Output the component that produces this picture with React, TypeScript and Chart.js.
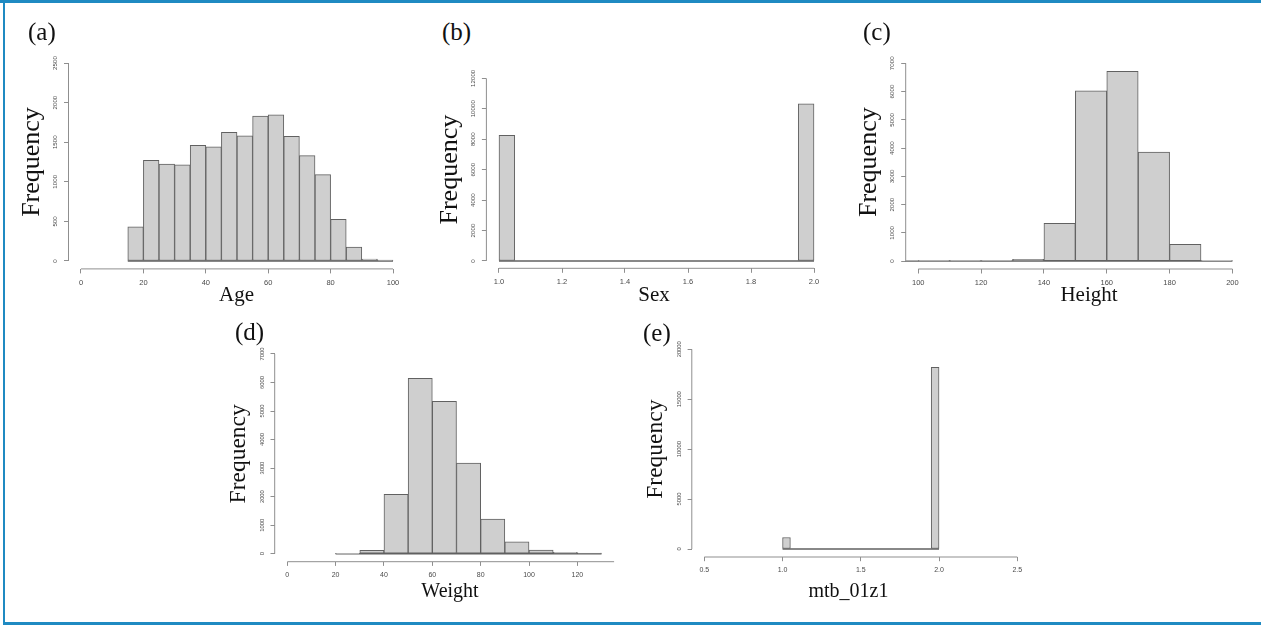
import React, { useEffect, useRef } from "react";
import { Chart, registerables } from "chart.js";

Chart.register(...registerables);

// ---------------- data ----------------
// (a) Age
const ageBinStart = 15;
const ageBinWidth = 5;
const ageCounts = [430, 1270, 1225, 1215, 1460, 1440, 1625, 1580, 1830, 1845, 1575, 1330, 1090, 525, 175, 25, 12];
const ageXLim = [0, 100];
const ageXTicks = [0, 20, 40, 60, 80, 100];
const ageXTickLabels = ["0", "20", "40", "60", "80", "100"];
const ageYTicks = [0, 500, 1000, 1500, 2000, 2500];
const ageYTickLabels = ["0", "500", "1000", "1500", "2000", "2500"];

// (b) Sex
const sexBinStart = 1.0;
const sexBinWidth = 0.05;
const sexCounts = [8250, 0, 0, 0, 0, 0, 0, 0, 0, 0, 0, 0, 0, 0, 0, 0, 0, 0, 0, 10320];
const sexXLim = [1.0, 2.0];
const sexXTicks = [1.0, 1.2, 1.4, 1.6, 1.8, 2.0];
const sexXTickLabels = ["1.0", "1.2", "1.4", "1.6", "1.8", "2.0"];
const sexYTicks = [0, 2000, 4000, 6000, 8000, 10000, 12000];
const sexYTickLabels = ["0", "2000", "4000", "6000", "8000", "10000", "12000"];

// (c) Height
const heightBinStart = 90;
const heightBinWidth = 10;
const heightCounts = [0, 2, 3, 8, 60, 1335, 6030, 6720, 3860, 590, 18];
const heightXLim = [100, 200];
const heightXTicks = [100, 120, 140, 160, 180, 200];
const heightXTickLabels = ["100", "120", "140", "160", "180", "200"];
const heightYTicks = [0, 1000, 2000, 3000, 4000, 5000, 6000, 7000];
const heightYTickLabels = ["0", "1000", "2000", "3000", "4000", "5000", "6000", "7000"];

// (d) Weight
const weightBinStart = 20;
const weightBinWidth = 10;
const weightCounts = [5, 117, 2080, 6150, 5340, 3180, 1215, 420, 128, 45, 22];
const weightXLim = [0, 130];
const weightXTicks = [0, 20, 40, 60, 80, 100, 120];
const weightXTickLabels = ["0", "20", "40", "60", "80", "100", "120"];
const weightYTicks = [0, 1000, 2000, 3000, 4000, 5000, 6000, 7000];
const weightYTickLabels = ["0", "1000", "2000", "3000", "4000", "5000", "6000", "7000"];

// (e) mtb_01z1
const mtbBinStart = 1.0;
const mtbBinWidth = 0.05;
const mtbCounts = [1150, 0, 0, 0, 0, 0, 0, 0, 0, 0, 0, 0, 0, 0, 0, 0, 0, 0, 0, 18200];
const mtbXLim = [0.5, 2.5];
const mtbXTicks = [0.5, 1.0, 1.5, 2.0, 2.5];
const mtbXTickLabels = ["0.5", "1.0", "1.5", "2.0", "2.5"];
const mtbYTicks = [0, 5000, 10000, 15000, 20000];
const mtbYTickLabels = ["0", "5000", "10000", "15000", "20000"];

// ---------------- styling / layout ----------------
const SERIF = '"Liberation Serif", "Times New Roman", Times, serif';
const SANS = '"Liberation Sans", Arial, Helvetica, sans-serif';
const FRAME = "#1f8ac2";
const BAR_FILL = "#cfcfcf";
const BAR_EDGE = "#616161";
const AXIS = "#8f8f8f";
const TICK_TEXT = "#4a4a4a";

type Row = {
  yTitleSize: number;
  yTitleGap: number;
  tickLen: number;
  xTickSize: number;
  xLabelGap: number;
  yTickSize: number;
  yLabelGap: number;
};

const TOP_ROW: Row = { yTitleSize: 26, yTitleGap: 33.5, tickLen: 4.5, xTickSize: 7.5, xLabelGap: 14, yTickSize: 6.2, yLabelGap: 13 };
const BOTTOM_ROW: Row = { yTitleSize: 23.5, yTitleGap: 33, tickLen: 4.2, xTickSize: 7, xLabelGap: 13, yTickSize: 5.8, yLabelGap: 12.5 };

type Area = { l: number; r: number; t: number; b: number };

type HistProps = {
  counts: number[];
  binStart: number;
  binWidth: number;
  xLim: number[];
  xTicks: number[];
  xTickLabels: string[];
  yTicks: number[];
  yTickLabels: string[];
  xAxisTo?: number;
  area: Area;
  row: Row;
};

const rAxisLines = {
  id: "rAxisLines",
  afterDraw(chart: any, _args: any, opts: any) {
    const { ctx, chartArea } = chart;
    const xs = chart.scales.x;
    const ys = chart.scales.y;
    ctx.save();
    ctx.strokeStyle = opts.color;
    ctx.lineWidth = 1;
    ctx.beginPath();
    const x0 = xs.getPixelForValue(opts.xFrom);
    const x1 = xs.getPixelForValue(Math.min(opts.xTo, xs.max));
    ctx.moveTo(x0, chartArea.bottom);
    ctx.lineTo(x1, chartArea.bottom);
    const y0 = ys.getPixelForValue(opts.yFrom);
    const y1 = ys.getPixelForValue(opts.yTo);
    ctx.moveTo(chartArea.left, y0);
    ctx.lineTo(chartArea.left, y1);
    ctx.stroke();
    ctx.restore();
  },
};

function Histogram(p: HistProps) {
  const ref = useRef<HTMLCanvasElement>(null);
  const { area, row } = p;
  const cl = Math.floor(area.l) - 62;
  const ct = Math.floor(area.t) - 14;
  const cr = Math.ceil(area.r) + 14;
  const cb = Math.ceil(area.b) + 34;
  const cw = cr - cl;
  const ch = cb - ct;

  useEffect(() => {
    const canvas = ref.current;
    if (!canvas) return;
    const m = document.createElement("canvas").getContext("2d") as CanvasRenderingContext2D;
    m.font = `${row.yTickSize}px ${SANS}`;
    const widest = Math.max(...p.yTickLabels.map((s) => m.measureText(s).width));
    const yPad = row.yLabelGap - row.tickLen - widest / 2;
    const xPad = row.xLabelGap - row.tickLen - row.xTickSize / 2;
    const titleAnchor = area.l - row.yTitleGap - 0.115 * row.yTitleSize - cl;
    const titlePad = titleAnchor - row.yTitleSize / 2;
    const xSpan = p.xLim[1] - p.xLim[0];
    const yTop = p.yTicks[p.yTicks.length - 1];
    const ySpan = yTop - p.yTicks[0];
    const lastEdge = p.binStart + p.counts.length * p.binWidth;

    const grid = {
      display: true,
      drawOnChartArea: false,
      drawTicks: true,
      tickLength: row.tickLen,
      color: AXIS,
      lineWidth: 1,
      offset: false,
    };

    const chart = new Chart(canvas, {
      type: "bar",
      data: {
        datasets: [
          {
            type: "bar",
            data: p.counts.map((c, i) => ({ x: p.binStart + (i + 0.5) * p.binWidth, y: c })),
            backgroundColor: BAR_FILL,
            borderColor: BAR_EDGE,
            borderWidth: 1,
            borderSkipped: false,
            barPercentage: 1,
            categoryPercentage: 1,
          } as any,
          {
            type: "line",
            data: [
              { x: p.binStart, y: 0 },
              { x: lastEdge, y: 0 },
            ],
            borderColor: BAR_EDGE,
            borderWidth: 1.4,
            pointRadius: 0,
          } as any,
        ],
      },
      options: {
        animation: false,
        responsive: false,
        maintainAspectRatio: false,
        devicePixelRatio: 1,
        events: [],
        layout: { padding: { top: area.t - ct, right: cr - area.r, left: 0, bottom: 0 } },
        plugins: {
          legend: { display: false },
          tooltip: { enabled: false },
          title: { display: false },
          rAxisLines: {
            color: AXIS,
            xFrom: p.xTicks[0],
            xTo: p.xAxisTo ?? p.xTicks[p.xTicks.length - 1],
            yFrom: p.yTicks[0],
            yTo: yTop,
          },
        } as any,
        scales: {
          x: {
            type: "linear",
            position: "bottom",
            min: p.xLim[0] - 0.04 * xSpan,
            max: p.xLim[1] + 0.04 * xSpan,
            bounds: "data",
            offset: false,
            grid,
            border: { display: false },
            ticks: {
              autoSkip: false,
              maxRotation: 0,
              minRotation: 0,
              padding: xPad,
              color: TICK_TEXT,
              font: { family: SANS, size: row.xTickSize, lineHeight: 1 },
              callback: (_v: any, i: number) => p.xTickLabels[i],
            },
            afterBuildTicks: (s: any) => {
              s.ticks = p.xTicks.map((v) => ({ value: v }));
            },
            afterFit: (s: any) => {
              s.height = cb - area.b;
            },
          } as any,
          y: {
            type: "linear",
            position: "left",
            min: p.yTicks[0] - 0.04 * ySpan,
            max: yTop + 0.04 * ySpan,
            bounds: "data",
            grid,
            border: { display: false },
            ticks: {
              autoSkip: false,
              minRotation: 90,
              maxRotation: 90,
              crossAlign: "center",
              padding: yPad,
              color: TICK_TEXT,
              font: { family: SANS, size: row.yTickSize, lineHeight: 1 },
              callback: (_v: any, i: number) => p.yTickLabels[i],
            },
            title: {
              display: true,
              text: "Frequency",
              color: "#111111",
              font: { family: SERIF, size: row.yTitleSize, lineHeight: 1 },
              padding: { top: titlePad, bottom: 0 },
            },
            afterBuildTicks: (s: any) => {
              s.ticks = p.yTicks.map((v) => ({ value: v }));
            },
            afterFit: (s: any) => {
              s.width = area.l - cl;
            },
          } as any,
        },
      },
      plugins: [rAxisLines as any],
    });
    return () => chart.destroy();
  }, []);

  return (
    <canvas
      ref={ref}
      width={cw}
      height={ch}
      style={{ position: "absolute", left: cl, top: ct, width: cw, height: ch }}
    />
  );
}

function Text(props: { text: string; x: number; baseline: number; size: number; center?: boolean }) {
  const { text, x, baseline, size, center } = props;
  const top = baseline - 0.8375 * size;
  const style: React.CSSProperties = {
    position: "absolute",
    top,
    fontFamily: SERIF,
    fontSize: size,
    lineHeight: 1,
    color: "#111111",
    whiteSpace: "nowrap",
  };
  if (center) {
    style.left = x - 150;
    style.width = 300;
    style.textAlign = "center";
  } else {
    style.left = x;
  }
  return <div style={style}>{text}</div>;
}

export default function App() {
  return (
    <div
      style={{
        position: "fixed",
        left: 0,
        top: 0,
        width: 1261,
        height: 625,
        background: "#ffffff",
        overflow: "hidden",
      }}
    >
      <div style={{ position: "absolute", left: 0, top: 0, width: 1261, height: 2.5, background: FRAME }} />
      <div style={{ position: "absolute", left: 2.5, top: 0, width: 2.5, height: 625, background: FRAME }} />
      <div style={{ position: "absolute", left: 2.5, top: 622, width: 1258.5, height: 3, background: FRAME }} />

      <Histogram
        counts={ageCounts}
        binStart={ageBinStart}
        binWidth={ageBinWidth}
        xLim={ageXLim}
        xTicks={ageXTicks}
        xTickLabels={ageXTickLabels}
        yTicks={ageYTicks}
        yTickLabels={ageYTickLabels}
        area={{ l: 68.5, r: 405.5, t: 55.1, b: 268.9 }}
        row={TOP_ROW}
      />
      <Histogram
        counts={sexCounts}
        binStart={sexBinStart}
        binWidth={sexBinWidth}
        xLim={sexXLim}
        xTicks={sexXTicks}
        xTickLabels={sexXTickLabels}
        yTicks={sexYTicks}
        yTickLabels={sexYTickLabels}
        area={{ l: 486.4, r: 826.6, t: 71, b: 268.3 }}
        row={TOP_ROW}
      />
      <Histogram
        counts={heightCounts}
        binStart={heightBinStart}
        binWidth={heightBinWidth}
        xLim={heightXLim}
        xTicks={heightXTicks}
        xTickLabels={heightXTickLabels}
        yTicks={heightYTicks}
        yTickLabels={heightYTickLabels}
        area={{ l: 905.7, r: 1245, t: 55.4, b: 269 }}
        row={TOP_ROW}
      />
      <Histogram
        counts={weightCounts}
        binStart={weightBinStart}
        binWidth={weightBinWidth}
        xLim={weightXLim}
        xTicks={weightXTicks}
        xTickLabels={weightXTickLabels}
        yTicks={weightYTicks}
        yTickLabels={weightYTickLabels}
        xAxisTo={140}
        area={{ l: 274.7, r: 614.1, t: 346, b: 561.7 }}
        row={BOTTOM_ROW}
      />
      <Histogram
        counts={mtbCounts}
        binStart={mtbBinStart}
        binWidth={mtbBinWidth}
        xLim={mtbXLim}
        xTicks={mtbXTicks}
        xTickLabels={mtbXTickLabels}
        yTicks={mtbYTicks}
        yTickLabels={mtbYTickLabels}
        area={{ l: 691.8, r: 1029.8, t: 341.3, b: 557 }}
        row={BOTTOM_ROW}
      />

      <Text text="(a)" x={28} baseline={40} size={25} />
      <Text text="(b)" x={442} baseline={40} size={25} />
      <Text text="(c)" x={863} baseline={40} size={25} />
      <Text text="(d)" x={235} baseline={340} size={25} />
      <Text text="(e)" x={643} baseline={341} size={25} />

      <Text text="Age" x={236.5} baseline={301.5} size={21} center />
      <Text text="Sex" x={654} baseline={301.5} size={21} center />
      <Text text="Height" x={1089} baseline={301.5} size={21} center />
      <Text text="Weight" x={450} baseline={597} size={20} center />
      <Text text="mtb_01z1" x={848.5} baseline={597} size={20} center />
    </div>
  );
}
